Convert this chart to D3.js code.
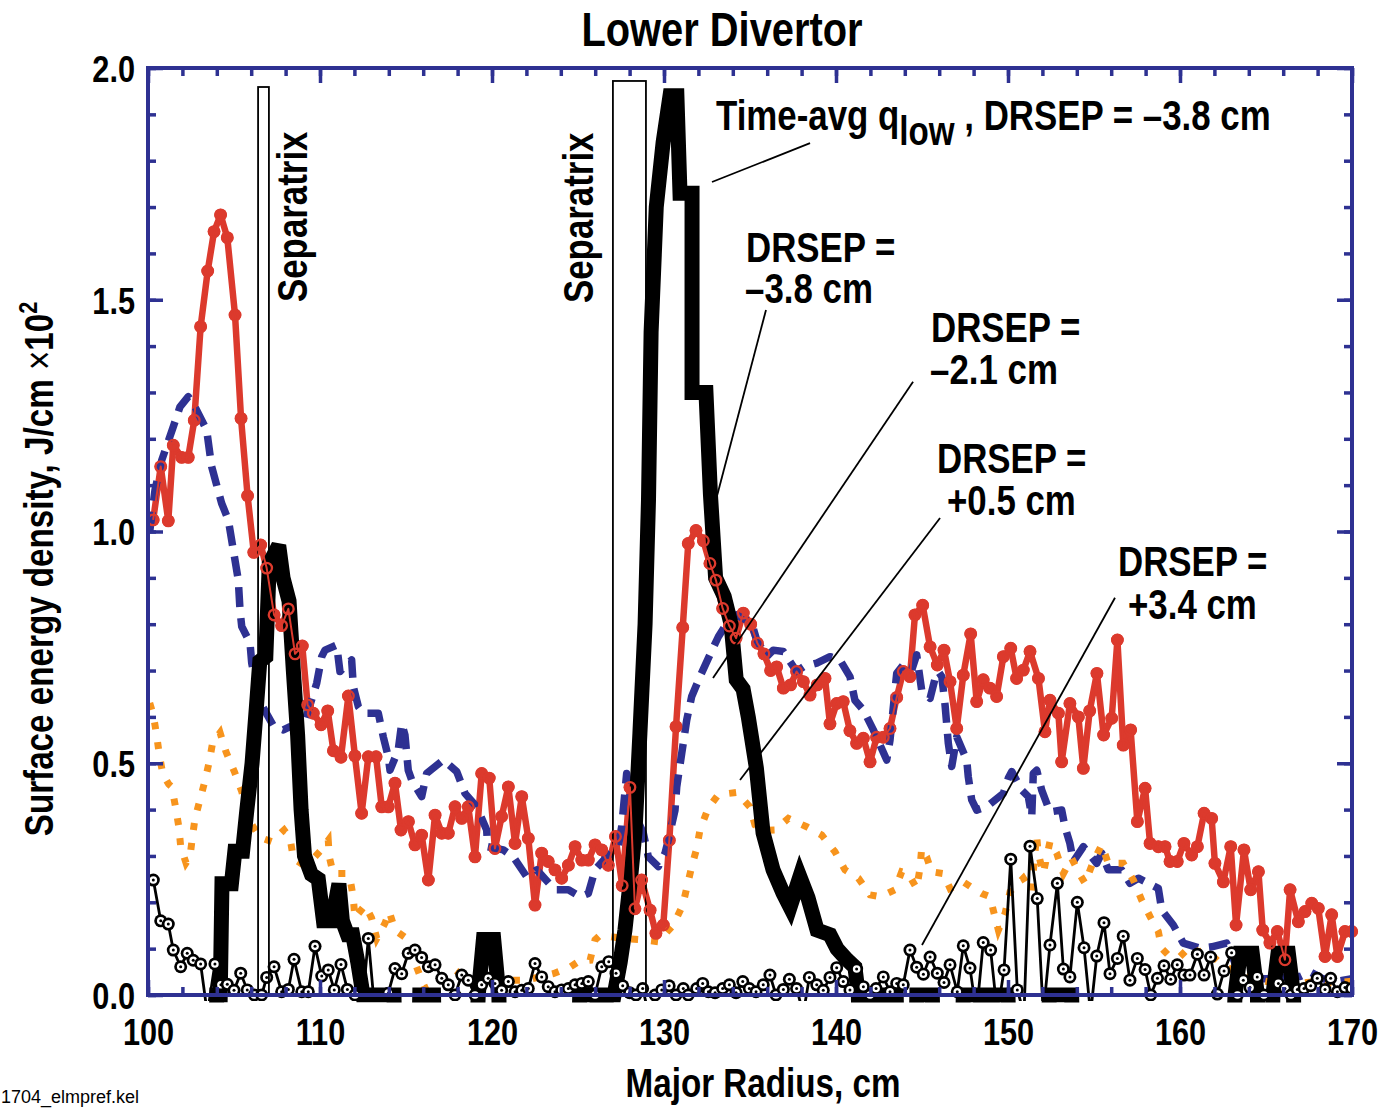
<!DOCTYPE html>
<html><head><meta charset="utf-8">
<script src="https://cdn.jsdelivr.net/npm/d3@7"></script>
<style>body{margin:0;background:#fff}svg{display:block}</style>
</head><body>
<svg id="chart" width="1387" height="1109"></svg>
<script>
// ---------------- DATA ----------------
const xTicksMajor = [100,110,120,130,140,150,160,170];
const xTickLabels = ["100","110","120","130","140","150","160","170"];
const yTicksMajor = [0,0.5,1.0,1.5,2.0];
const yTickLabels = ["0.0","0.5","1.0","1.5","2.0"];

// DRSEP = -3.8 cm (red, solid with dots)
const drsepM38 = [[100.30,1.025],[100.74,1.14],[101.18,1.023],[101.47,1.186],[101.96,1.16],[102.34,1.16],[102.69,1.24],[103.06,1.442],[103.47,1.562],[103.84,1.647],[104.22,1.683],[104.61,1.634],[105.06,1.467],[105.41,1.244],[105.79,1.077],[106.15,0.955],[106.55,0.971],[106.90,0.921],[107.33,0.82],[107.77,0.797],[108.16,0.833],[108.55,0.736],[108.97,0.753],[109.28,0.626],[109.61,0.608],[110.06,0.583],[110.45,0.613],[110.78,0.527],[111.22,0.513],[111.65,0.645],[112.03,0.516],[112.42,0.392],[112.81,0.514],[113.26,0.514],[113.59,0.406],[113.97,0.406],[114.36,0.457],[114.71,0.356],[115.14,0.374],[115.52,0.324],[115.91,0.345],[116.30,0.248],[116.69,0.388],[117.08,0.349],[117.46,0.349],[117.85,0.406],[118.24,0.381],[118.62,0.406],[119.01,0.298],[119.40,0.478],[119.84,0.468],[120.17,0.316],[120.56,0.385],[120.95,0.449],[121.34,0.327],[121.73,0.428],[122.11,0.338],[122.50,0.194],[122.89,0.306],[123.27,0.288],[123.66,0.27],[124.05,0.252],[124.44,0.28],[124.83,0.32],[125.22,0.291],[125.60,0.291],[125.99,0.324],[126.38,0.313],[126.76,0.28],[127.18,0.342],[127.57,0.236],[128.02,0.448],[128.31,0.186],[128.70,0.248],[129.19,0.183],[129.53,0.133],[129.96,0.151],[130.31,0.334],[130.70,0.579],[131.09,0.793],[131.41,0.974],[131.86,1.002],[132.29,0.98],[132.67,0.931],[133.02,0.895],[133.41,0.834],[133.80,0.796],[134.19,0.77],[134.61,0.824],[135.04,0.80],[135.43,0.759],[135.81,0.736],[136.20,0.70],[136.55,0.708],[136.94,0.662],[137.36,0.669],[137.71,0.698],[138.10,0.676],[138.49,0.647],[138.91,0.669],[139.36,0.683],[139.65,0.585],[140.04,0.629],[140.42,0.633],[140.81,0.57],[141.20,0.543],[141.59,0.554],[141.98,0.503],[142.36,0.556],[142.75,0.556],[143.14,0.575],[143.53,0.642],[143.91,0.698],[144.30,0.687],[144.59,0.82],[145.04,0.841],[145.47,0.751],[145.89,0.712],[146.28,0.744],[146.63,0.676],[147.02,0.575],[147.40,0.69],[147.83,0.779],[148.18,0.633],[148.56,0.68],[148.95,0.662],[149.34,0.644],[149.73,0.73],[150.16,0.748],[150.50,0.683],[150.89,0.701],[151.28,0.741],[151.77,0.683],[152.15,0.568],[152.44,0.636],[152.93,0.608],[153.12,0.503],[153.60,0.629],[154.09,0.60],[154.38,0.489],[154.75,0.613],[155.17,0.694],[155.56,0.561],[156.03,0.597],[156.36,0.766],[156.70,0.539],[157.13,0.572],[157.52,0.374],[157.97,0.446],[158.26,0.327],[158.74,0.32],[159.13,0.32],[159.42,0.288],[159.84,0.288],[160.23,0.327],[160.68,0.302],[161.01,0.32],[161.40,0.392],[161.84,0.381],[162.03,0.284],[162.52,0.244],[162.95,0.32],[163.26,0.151],[163.72,0.313],[164.11,0.227],[164.56,0.266],[164.81,0.14],[165.23,0.112],[165.66,0.137],[166.10,0.076],[166.40,0.227],[166.88,0.158],[167.27,0.18],[167.66,0.198],[168.04,0.187],[168.43,0.083],[168.82,0.173],[169.15,0.083],[169.59,0.137],[169.98,0.137]];

// DRSEP = -2.1 cm (blue, dashed)
const drsepM21 = [[100.1,1.00],[100.41,1.09],[100.8,1.154],[101.47,1.226],[101.86,1.269],[102.34,1.291],[102.73,1.269],[103.41,1.219],[103.7,1.14],[104.28,1.061],[104.67,1.025],[104.96,0.96],[105.25,0.895],[105.35,0.83],[105.45,0.795],[105.93,0.76],[106.03,0.716],[106.22,0.68],[106.7,0.62],[107.3,0.58],[107.87,0.572],[108.26,0.579],[109.03,0.579],[109.81,0.673],[110.1,0.73],[110.29,0.744],[110.97,0.755],[111.16,0.698],[111.65,0.716],[111.84,0.723],[111.94,0.665],[112.23,0.622],[112.52,0.608],[113.39,0.608],[113.68,0.557],[113.97,0.514],[114.07,0.485],[114.55,0.529],[114.75,0.586],[114.94,0.561],[115.13,0.485],[115.33,0.464],[115.91,0.428],[116.2,0.478],[117.17,0.507],[117.95,0.482],[118.43,0.435],[119.11,0.406],[119.69,0.356],[119.75,0.32],[120.66,0.313],[121.24,0.298],[122.02,0.255],[122.6,0.27],[123.66,0.227],[124.44,0.227],[125.12,0.212],[125.6,0.219],[125.99,0.27],[126.67,0.298],[127.34,0.32],[127.54,0.363],[127.83,0.478],[128.12,0.406],[128.8,0.349],[129.09,0.298],[129.67,0.277],[130.06,0.306],[130.25,0.334],[130.64,0.399],[130.74,0.449],[131.03,0.521],[131.32,0.593],[131.61,0.644],[132.09,0.687],[132.67,0.734],[133.16,0.773],[133.65,0.802],[134.23,0.82],[135.1,0.802],[135.39,0.766],[135.97,0.73],[136.35,0.744],[136.94,0.741],[137.71,0.698],[138.1,0.708],[138.88,0.716],[139.65,0.73],[140.23,0.723],[140.81,0.687],[141.1,0.636],[141.59,0.615],[142.17,0.572],[142.95,0.507],[143.14,0.55],[143.53,0.694],[143.91,0.712],[144.4,0.701],[144.69,0.734],[144.98,0.658],[145.47,0.64],[145.76,0.683],[145.95,0.698],[146.15,0.687],[146.34,0.626],[146.53,0.543],[146.73,0.493],[147.02,0.557],[147.6,0.507],[147.69,0.471],[147.89,0.421],[148.18,0.399],[148.76,0.406],[149.73,0.435],[150.02,0.468],[150.22,0.482],[150.8,0.442],[151.18,0.428],[151.38,0.385],[151.47,0.478],[151.67,0.485],[151.96,0.442],[152.44,0.395],[153.12,0.399],[153.31,0.363],[153.6,0.327],[153.8,0.288],[154.38,0.32],[155.16,0.284],[155.45,0.306],[155.83,0.27],[156.6,0.27],[157.09,0.241],[157.58,0.252],[158.74,0.23],[158.94,0.183],[159.61,0.151],[160.19,0.112],[161.16,0.101],[161.84,0.104],[162.71,0.112],[163.3,0.06],[164.0,0.04],[164.46,0.035],[165.62,0.035],[166.2,0.04],[167.0,0.04],[167.56,0.05],[168.3,0.035],[169.2,0.03],[170.0,0.035]];

// DRSEP = +0.5 cm (orange, dotted)
const drsepP05 = [[100.1,0.63],[100.31,0.604],[100.5,0.561],[100.66,0.518],[100.86,0.477],[101.2,0.455],[101.38,0.449],[101.61,0.404],[101.8,0.361],[101.9,0.32],[102.21,0.285],[102.44,0.298],[102.57,0.337],[102.73,0.38],[103.02,0.421],[103.31,0.462],[103.56,0.503],[103.76,0.545],[104.19,0.566],[104.53,0.525],[105.02,0.482],[105.45,0.439],[105.7,0.401],[106.0,0.37],[106.5,0.34],[107.19,0.331],[107.6,0.345],[107.91,0.356],[108.26,0.338],[108.45,0.295],[108.9,0.284],[109.5,0.29],[110.0,0.31],[110.48,0.334],[110.54,0.298],[110.77,0.262],[111.55,0.262],[111.74,0.252],[111.93,0.212],[112.03,0.166],[112.62,0.194],[113.0,0.166],[113.3,0.122],[113.78,0.155],[114.03,0.18],[114.36,0.14],[115.04,0.122],[115.42,0.079],[116.1,0.014],[116.59,0.022],[117.2,0.04],[117.85,0.054],[118.62,0.032],[119.5,0.03],[120.47,0.032],[121.15,0.032],[121.92,0.032],[122.79,0.039],[123.56,0.046],[124.53,0.06],[125.02,0.072],[125.7,0.075],[125.99,0.119],[126.28,0.129],[126.86,0.126],[127.6,0.122],[128.7,0.119],[129.67,0.115],[130.54,0.151],[131.09,0.194],[131.36,0.237],[131.61,0.277],[131.9,0.316],[132.09,0.356],[132.57,0.403],[133.15,0.432],[134.22,0.437],[134.99,0.406],[135.29,0.367],[135.8,0.355],[136.45,0.356],[137.23,0.381],[138.29,0.363],[139.17,0.345],[139.94,0.309],[140.52,0.27],[141.3,0.252],[141.98,0.216],[142.56,0.212],[143.43,0.227],[143.82,0.266],[144.2,0.262],[144.69,0.23],[144.88,0.273],[144.98,0.316],[145.27,0.298],[145.56,0.266],[146.24,0.262],[146.63,0.23],[147.4,0.244],[147.98,0.23],[148.47,0.219],[148.95,0.212],[149.24,0.169],[149.44,0.14],[149.83,0.176],[150.12,0.223],[150.89,0.252],[151.37,0.223],[151.66,0.345],[151.76,0.306],[152.05,0.262],[152.44,0.331],[152.83,0.306],[153.22,0.262],[153.7,0.295],[154.19,0.259],[154.48,0.241],[154.96,0.288],[155.45,0.324],[155.83,0.284],[156.7,0.284],[157.29,0.248],[157.77,0.205],[158.26,0.169],[158.74,0.137],[158.93,0.101],[159.32,0.086],[160.0,0.083],[160.58,0.104],[161.07,0.093],[161.55,0.097],[162.3,0.07],[163.2,0.05],[164.2,0.035],[165.04,0.029],[166.0,0.03],[167.0,0.025],[168.0,0.03],[169.0,0.025],[170.0,0.03]];

// Time-avg q_low, DRSEP = -3.8 cm (thick black); values below 0 fall outside the frame
const qLowAvg = [[100.0,-0.1],[103.95,-0.1],[104.0,0.0],[104.2,0.0],[104.3,0.24],[104.85,0.24],[105.05,0.31],[105.5,0.31],[105.75,0.40],[106.05,0.50],[106.3,0.62],[106.5,0.72],[106.85,0.73],[107.05,0.93],[107.6,0.97],[107.85,0.90],[108.2,0.85],[108.45,0.70],[108.7,0.56],[108.9,0.40],[109.1,0.30],[109.5,0.26],[109.9,0.25],[110.2,0.16],[110.7,0.16],[111.1,0.24],[111.3,0.16],[111.6,0.13],[111.9,0.13],[112.2,0.07],[112.5,0.0],[114.3,0.0],[114.35,-0.1],[115.75,-0.1],[115.8,0.0],[116.6,0.0],[116.65,-0.1],[119.1,-0.1],[119.2,0.0],[119.5,0.12],[120.1,0.12],[120.4,0.0],[120.45,-0.1],[125.05,-0.1],[125.1,0.0],[126.1,0.0],[126.15,-0.1],[126.6,-0.1],[126.65,0.0],[127.1,0.0],[127.45,0.07],[127.73,0.14],[128.05,0.25],[128.31,0.35],[128.6,0.565],[128.9,0.8],[129.1,1.07],[129.25,1.43],[129.55,1.7],[129.95,1.84],[130.35,1.94],[130.75,1.94],[130.93,1.73],[131.63,1.73],[131.63,1.30],[132.44,1.30],[132.7,1.08],[133.0,0.90],[133.5,0.86],[133.9,0.80],[134.2,0.68],[134.6,0.66],[134.9,0.60],[135.37,0.49],[135.76,0.35],[136.34,0.27],[136.92,0.22],[137.33,0.19],[137.9,0.255],[138.37,0.21],[138.9,0.14],[139.65,0.13],[140.06,0.10],[140.64,0.076],[141.1,0.06],[141.3,0.0],[141.35,-0.1],[141.55,-0.1],[141.6,0.0],[142.4,0.0],[142.45,-0.1],[142.65,-0.1],[142.7,0.0],[143.5,0.0],[143.55,-0.1],[144.65,-0.1],[144.7,0.0],[145.6,0.0],[145.65,-0.1],[147.35,-0.1],[147.4,0.0],[148.4,0.0],[148.45,-0.1],[149.05,-0.1],[149.1,0.0],[150.0,0.0],[150.05,-0.1],[152.35,-0.1],[152.4,0.0],[153.7,0.0],[153.75,-0.1],[163.1,-0.1],[163.2,0.0],[163.5,0.09],[164.2,0.09],[164.5,0.0],[164.55,-0.1],[165.35,-0.1],[165.4,0.0],[165.7,0.09],[166.3,0.09],[166.6,0.0],[166.65,-0.1],[170.0,-0.1]];

// DRSEP = +3.4 cm (thin black with circle markers); values below 0 fall outside the frame
const drsepP34 = [[100.31,0.248],[100.74,0.16],[101.18,0.153],[101.47,0.097],[101.90,0.061],[102.28,0.09],[102.63,0.075],[103.06,0.067],[103.45,-0.04],[103.89,0.067],[104.24,0.022],[104.61,0.023],[105.0,0.01],[105.39,0.047],[105.77,0.011],[106.18,0.0],[106.61,0.0],[106.9,0.038],[107.33,0.061],[107.77,0.007],[108.16,0.012],[108.49,0.077],[108.94,0.007],[109.32,0.007],[109.71,0.105],[110.1,0.041],[110.48,0.054],[110.83,0.011],[111.22,0.066],[111.59,0.012],[112.03,0.0],[112.42,-0.04],[112.81,0.122],[113.2,-0.04],[113.59,-0.04],[113.97,0.004],[114.36,0.057],[114.75,0.046],[115.13,0.09],[115.52,0.097],[115.91,0.081],[116.3,0.061],[116.69,0.065],[117.08,0.036],[117.46,0.022],[117.85,0.0],[118.24,0.043],[118.62,0.032],[119.01,0.0],[119.4,0.022],[119.78,0.036],[120.17,0.025],[120.56,0.01],[120.95,0.029],[121.34,0.007],[121.73,0.01],[122.11,0.014],[122.5,0.068],[122.89,0.039],[123.27,0.018],[123.66,0.007],[124.05,0.011],[124.44,0.014],[124.83,0.022],[125.22,0.025],[125.6,0.029],[125.99,0.0],[126.38,0.061],[126.79,0.072],[127.21,0.047],[127.6,0.02],[128.0,0.005],[128.37,0.0],[128.76,0.014],[129.1,-0.04],[129.48,0.0],[129.87,0.011],[130.3,0.02],[130.7,0.0],[131.12,0.014],[131.41,0.0],[131.9,0.014],[132.25,0.025],[132.58,0.007],[132.97,0.005],[133.41,0.014],[133.8,0.022],[134.19,0.005],[134.58,0.029],[134.96,0.014],[135.35,0.007],[135.77,0.022],[136.16,0.043],[136.51,0.0],[136.94,0.012],[137.29,0.034],[137.71,0.014],[138.1,-0.04],[138.45,0.038],[138.88,0.022],[139.26,0.01],[139.65,0.038],[140.04,0.059],[140.42,0.029],[140.81,0.011],[141.2,0.056],[141.59,0.018],[141.98,0.0],[142.33,0.014],[142.75,0.039],[143.14,0.007],[143.53,0.025],[143.91,0.022],[144.3,0.097],[144.69,0.06],[145.08,0.045],[145.47,0.082],[145.89,0.047],[146.28,0.027],[146.63,0.065],[147.05,0.007],[147.4,0.106],[147.79,0.058],[148.17,-0.04],[148.56,0.113],[148.99,0.097],[149.38,-0.04],[149.77,0.054],[150.16,0.293],[150.54,0.011],[150.93,-0.04],[151.28,0.321],[151.7,0.208],[152.05,-0.04],[152.44,0.108],[152.87,0.241],[153.22,0.056],[153.6,0.039],[154.03,0.2],[154.42,0.102],[154.8,-0.04],[155.16,0.084],[155.58,0.156],[155.93,0.046],[156.36,0.079],[156.7,0.127],[157.09,0.032],[157.52,0.079],[157.97,0.055],[158.3,0.0],[158.69,0.036],[159.07,0.063],[159.46,0.034],[159.84,0.065],[160.23,0.043],[160.58,0.043],[161.01,0.088],[161.4,0.043],[161.78,0.082],[162.17,0.002],[162.56,0.052],[163.0,0.091],[163.34,0.0],[163.68,0.032],[164.07,0.016],[164.49,0.039],[164.88,0.0],[165.3,-0.04],[165.72,0.025],[166.1,0.014],[166.45,0.0],[166.82,0.012],[167.21,0.014],[167.6,0.02],[167.98,0.036],[168.43,0.012],[168.76,0.036],[169.15,0.007],[169.59,0.016],[169.98,0.014]];

// Separatrix boxes: [xLeft, xRight, top value]
const separatrixBoxes = [[106.4,107.03,1.959],[127.03,128.95,1.972]];
// leader lines: [x1,y1,x2,y2] in data units
const leaderLines = [[138.49,1.838,132.79,1.754],[135.93,1.478,133.02,1.068],[144.48,1.323,132.85,0.684],[146.05,1.029,134.42,0.464],[156.22,0.857,145.0,0.108]];

// ---------------- DRAWING ----------------
const W = 1387, H = 1109;
const L = 148, R = 1352, T = 68, B = 995;
const NAVY = "#2e3192", RED = "#dc3a2d", ORANGE = "#f7941d";
const FONT = "'Liberation Sans', Arial, Helvetica, sans-serif";
const SX = 0.83;

const svg = d3.select("#chart");
svg.append("rect").attr("width", W).attr("height", H).attr("fill", "#fff");

const x = d3.scaleLinear().domain([100,170]).range([L,R]);
const y = d3.scaleLinear().domain([0,2]).range([B,T]);
const line = d3.line().x(d => x(d[0])).y(d => y(d[1]));

const defs = svg.append("defs");
defs.append("clipPath").attr("id","clipLow").append("rect")
  .attr("x", L).attr("y", T).attr("width", R-L).attr("height", B-T+6);
defs.append("clipPath").attr("id","clipThick").append("rect")
  .attr("x", L-8).attr("y", T).attr("width", R-L+16).attr("height", B-T+7.5);

function txt(g, px, py, s, size, opts = {}) {
  const t = g.append("text")
    .attr("transform", `translate(${px},${py}) rotate(${opts.rotate||0}) scale(${opts.sx||SX},1)`)
    .attr("font-family", FONT)
    .attr("font-weight", opts.weight || "bold")
    .attr("font-size", size)
    .attr("text-anchor", opts.anchor || "start")
    .attr("fill", "#000");
  if (s !== null) t.text(s);
  return t;
}

// 1. red thick line + filled dots (bottom layer)
const gRed = svg.append("g");
gRed.append("path").datum(drsepM38).attr("d", line)
  .attr("fill","none").attr("stroke",RED).attr("stroke-width",6.5).attr("stroke-linejoin","round");
gRed.selectAll("circle").data(drsepM38).join("circle")
  .attr("cx", d => x(d[0])).attr("cy", d => y(d[1])).attr("r", 6.2).attr("fill", RED);

// 2. blue dashed
svg.append("path").datum(drsepM21).attr("d", line)
  .attr("fill","none").attr("stroke",NAVY).attr("stroke-width",7.5)
  .attr("stroke-dasharray","20,11").attr("stroke-linejoin","round");

// 3. orange dotted
svg.append("path").datum(drsepP05).attr("d", line)
  .attr("fill","none").attr("stroke",ORANGE).attr("stroke-width",7)
  .attr("stroke-dasharray","7,13");

// 4. thick black time-avg
svg.append("path").datum(qLowAvg).attr("d", line).attr("clip-path","url(#clipThick)")
  .attr("fill","none").attr("stroke","#000").attr("stroke-width",15)
  .attr("stroke-linejoin","miter").attr("stroke-miterlimit",3);

// 5. thin black with circle markers
const gP = svg.append("g").attr("clip-path","url(#clipLow)");
gP.append("path").datum(drsepP34).attr("d", line)
  .attr("fill","none").attr("stroke","#000").attr("stroke-width",2.8).attr("stroke-linejoin","miter");
const mk = gP.selectAll("g.mk").data(drsepP34).join("g").attr("class","mk")
  .attr("transform", d => `translate(${x(d[0])},${y(d[1])})`);
mk.append("circle").attr("r",6.5).attr("fill","#000");
mk.append("circle").attr("r",3.8).attr("fill","#fff");
mk.append("circle").attr("r",1.5).attr("fill","#000");

// 6. separatrix boxes
svg.selectAll("rect.sep").data(separatrixBoxes).join("rect").attr("class","sep")
  .attr("x", d => x(d[0])).attr("width", d => x(d[1]) - x(d[0]))
  .attr("y", d => y(d[2])).attr("height", d => y(0) - y(d[2]))
  .attr("fill","none").attr("stroke","#000").attr("stroke-width",1.8);

// 7. red thin line + open rings on top
const gRedTop = svg.append("g");
gRedTop.append("path").datum(drsepM38).attr("d", line)
  .attr("fill","none").attr("stroke",RED).attr("stroke-width",2).attr("stroke-linejoin","round");
gRedTop.selectAll("circle").data(drsepM38).join("circle")
  .attr("cx", d => x(d[0])).attr("cy", d => y(d[1])).attr("r", 5.3)
  .attr("fill","none").attr("stroke",RED).attr("stroke-width",2.3);

// 8. frame + ticks
const xMinor = d3.range(100, 170.01, 2);
const yMinor = d3.range(0, 20.01, 1).map(v => v/10);
function styleAxis(g){ g.attr("color",NAVY); g.select(".domain").remove(); g.selectAll(".tick line").attr("stroke-width",3.5); }

svg.append("g").attr("transform",`translate(0,${B})`)
  .call(d3.axisBottom(x).tickValues(xMinor).tickSize(-8).tickFormat("")).call(styleAxis);
svg.append("g").attr("transform",`translate(0,${T})`)
  .call(d3.axisTop(x).tickValues(xMinor).tickSize(-8).tickFormat("")).call(styleAxis);
svg.append("g").attr("transform",`translate(${L},0)`)
  .call(d3.axisLeft(y).tickValues(yMinor).tickSize(-8).tickFormat("")).call(styleAxis);
svg.append("g").attr("transform",`translate(${R},0)`)
  .call(d3.axisRight(y).tickValues(yMinor).tickSize(-8).tickFormat("")).call(styleAxis);

svg.append("g").attr("transform",`translate(0,${T})`)
  .call(d3.axisTop(x).tickValues(xTicksMajor).tickSize(-15).tickFormat("")).call(styleAxis);
svg.append("g").attr("transform",`translate(${R},0)`)
  .call(d3.axisRight(y).tickValues(yTicksMajor).tickSize(-15).tickFormat("")).call(styleAxis);

const gxb = svg.append("g").attr("transform",`translate(0,${B})`)
  .call(d3.axisBottom(x).tickValues(xTicksMajor).tickSize(-15).tickPadding(24)
    .tickFormat((d,i) => xTickLabels[i])).call(styleAxis);
gxb.selectAll(".tick text").attr("fill","#000").attr("font-family",FONT).attr("font-weight","bold")
  .attr("font-size",37).attr("transform",`scale(${SX},1)`);

const gyl = svg.append("g").attr("transform",`translate(${L},0)`)
  .call(d3.axisLeft(y).tickValues(yTicksMajor).tickSize(-15).tickPadding(13)
    .tickFormat((d,i) => yTickLabels[i])).call(styleAxis);
gyl.selectAll(".tick text").attr("fill","#000").attr("font-family",FONT).attr("font-weight","bold")
  .attr("font-size",37).attr("x", -13/SX).attr("dy","0.36em").attr("transform",`scale(${SX},1)`);

svg.append("rect").attr("x",L).attr("y",T).attr("width",R-L).attr("height",B-T)
  .attr("fill","none").attr("stroke",NAVY).attr("stroke-width",4);

// 9. leader lines and annotations
svg.selectAll("line.lead").data(leaderLines).join("line").attr("class","lead")
  .attr("x1", d => x(d[0])).attr("y1", d => y(d[1]))
  .attr("x2", d => x(d[2])).attr("y2", d => y(d[3]))
  .attr("stroke","#000").attr("stroke-width",1.8);

const ann = svg.append("g");
txt(ann, 722, 46, "Lower Divertor", 48, {anchor:"middle"});
txt(ann, 763, 1097, "Major Radius, cm", 40, {anchor:"middle"});
const yl = txt(ann, 53, 569, null, 40, {anchor:"middle", rotate:-90});
yl.append("tspan").text("Surface energy density,  J/cm ");
yl.append("tspan").attr("font-weight","normal").text("\u00d7");
yl.append("tspan").text("10");
yl.append("tspan").attr("font-size",26).attr("dy",-16).text("2");

txt(ann, 307, 302, "Separatrix", 42, {rotate:-90});
txt(ann, 593, 303, "Separatrix", 42, {rotate:-90});

const ta = txt(ann, 716, 130, null, 42);
ta.append("tspan").text("Time-avg q");
ta.append("tspan").attr("font-size",40).attr("dy",15).text("low");
ta.append("tspan").attr("dy",-15).text(" , DRSEP = \u20133.8 cm");

txt(ann, 746, 262, "DRSEP =", 42);
txt(ann, 745, 303, "\u20133.8 cm", 42);
txt(ann, 931, 342, "DRSEP =", 42);
txt(ann, 930, 384, "\u20132.1 cm", 42);
txt(ann, 937, 473, "DRSEP =", 42);
txt(ann, 947, 515, "+0.5 cm", 42);
txt(ann, 1118, 576, "DRSEP =", 42);
txt(ann, 1128, 619, "+3.4 cm", 42);

txt(ann, 1, 1103, "1704_elmpref.kel", 18, {weight:"normal", sx:1});
</script>
</body></html>
